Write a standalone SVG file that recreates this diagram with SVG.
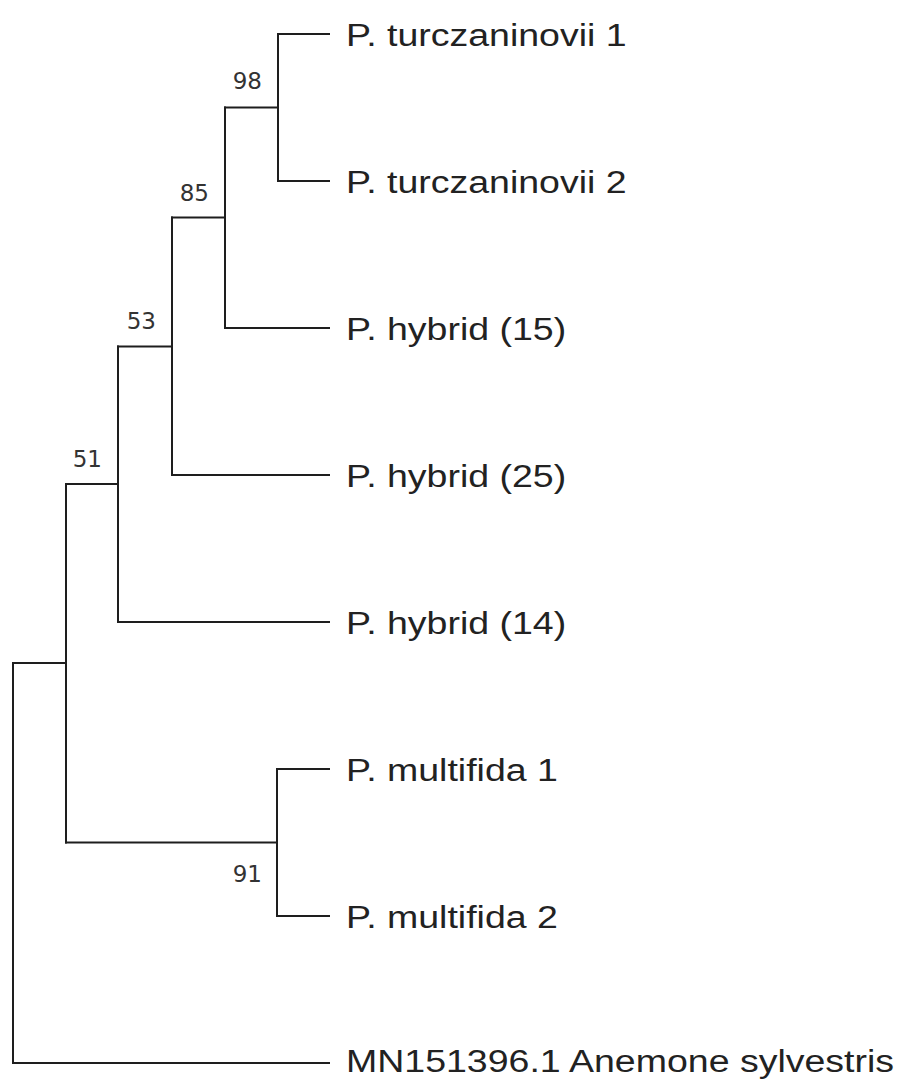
<svg xmlns="http://www.w3.org/2000/svg" width="901" height="1084" viewBox="0 0 901 1084">
  <style>
    .branch { fill: none; stroke: #1e1e1e; stroke-width: 2; stroke-linecap: square; }
    .taxon { font-family: "Liberation Sans", Arial, sans-serif; font-size: 31px; fill: #222; }
    .support { font-family: "DejaVu Sans", Verdana, sans-serif; font-size: 23px; fill: #333; text-anchor: end; }
  </style>
  <rect width="901" height="1084" fill="#fff"/>

  <!-- tree branches (rectangular cladogram) -->
  <g id="connectors">
    <!-- root -->
    <path class="branch" d="M13,663 V1063 H329"/>
    <path class="branch" d="M13,663 H66"/>
    <!-- ingroup node -->
    <path class="branch" d="M66,484 V842.5"/>
    <path class="branch" d="M66,484 H118"/>
    <path class="branch" d="M66,842.5 H277"/>
    <!-- node 51 -->
    <path class="branch" d="M118,346.5 V622 H329"/>
    <path class="branch" d="M118,346.5 H172"/>
    <!-- node 53 -->
    <path class="branch" d="M172,217.5 V475 H329"/>
    <path class="branch" d="M172,217.5 H225"/>
    <!-- node 85 -->
    <path class="branch" d="M225,107.5 V328 H329"/>
    <path class="branch" d="M225,107.5 H278"/>
    <!-- node 98 -->
    <path class="branch" d="M329,34 H278 V181 H329"/>
    <!-- node 91 -->
    <path class="branch" d="M329,769 H277 V916 H329"/>
  </g>

  <!-- bootstrap support values -->
  <g id="node-98"><text class="support" x="262" y="89">98</text></g>
  <g id="node-85"><text class="support" x="209" y="201">85</text></g>
  <g id="node-53"><text class="support" x="156" y="329">53</text></g>
  <g id="node-51"><text class="support" x="102" y="467">51</text></g>
  <g id="node-91"><text class="support" x="262" y="882">91</text></g>

  <!-- terminal taxa -->
  <g id="leaf-turczaninovii-1"><text class="taxon" transform="translate(346,46) scale(1.21,1)">P. turczaninovii 1</text></g>
  <g id="leaf-turczaninovii-2"><text class="taxon" transform="translate(346,193) scale(1.21,1)">P. turczaninovii 2</text></g>
  <g id="leaf-hybrid-15"><text class="taxon" transform="translate(346,340) scale(1.21,1)">P. hybrid (15)</text></g>
  <g id="leaf-hybrid-25"><text class="taxon" transform="translate(346,487) scale(1.21,1)">P. hybrid (25)</text></g>
  <g id="leaf-hybrid-14"><text class="taxon" transform="translate(346,634) scale(1.21,1)">P. hybrid (14)</text></g>
  <g id="leaf-multifida-1"><text class="taxon" transform="translate(346,781) scale(1.21,1)">P. multifida 1</text></g>
  <g id="leaf-multifida-2"><text class="taxon" transform="translate(346,928) scale(1.21,1)">P. multifida 2</text></g>
  <g id="leaf-anemone"><text class="taxon" transform="translate(346,1072) scale(1.21,1)">MN151396.1 Anemone sylvestris</text></g>
</svg>
